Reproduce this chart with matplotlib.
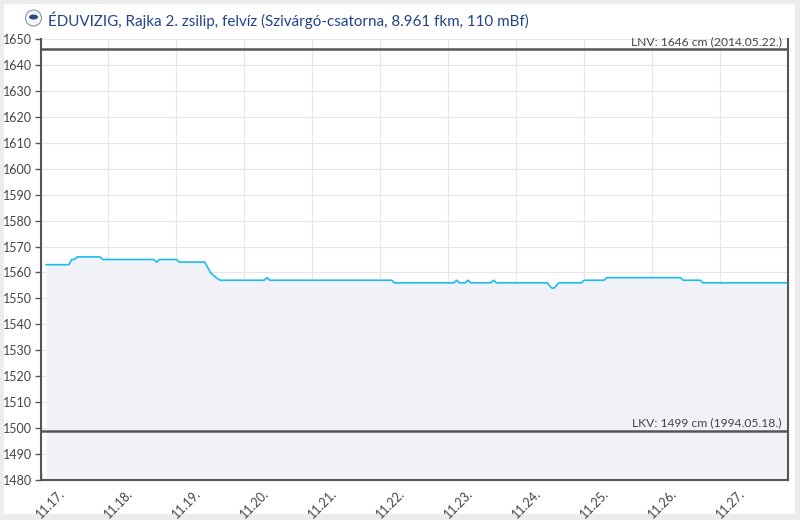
import matplotlib
matplotlib.use("Agg")
import matplotlib.pyplot as plt
import matplotlib.patches as mpatches
import matplotlib.transforms as mtransforms

plt.rcParams['font.family'] = ['Lato', 'DejaVu Sans']

# ---- data ----
title = "ÉDUVIZIG, Rajka 2. zsilip, felvíz (Szivárgó-csatorna, 8.961 fkm, 110 mBf)"
day_labels = ["11.17.", "11.18.", "11.19.", "11.20.", "11.21.", "11.22.",
              "11.23.", "11.24.", "11.25.", "11.26.", "11.27."]
# hours since 11.17. 00:00
hours = [2, 10, 11, 12, 13, 21, 22, 40, 41, 42, 48, 49, 58, 60, 61, 62, 63.5,
         79, 80, 81, 124, 125, 146, 147, 148, 150, 151, 152, 159, 160, 161,
         179, 180.5, 181.5, 183, 191, 192, 199, 200, 226, 227, 233, 234, 263.5]
levels = [1563, 1563, 1565, 1565, 1566, 1566, 1565, 1565, 1564, 1565, 1565, 1564,
          1564, 1560, 1559, 1558, 1557, 1557, 1558, 1557, 1557, 1556, 1556, 1557,
          1556, 1556, 1557, 1556, 1556, 1557, 1556, 1556, 1554, 1554, 1556, 1556,
          1557, 1557, 1558, 1558, 1557, 1557, 1556, 1556]
lnv_value = 1646
lnv_label = "LNV: 1646 cm (2014.05.22.)"
lkv_value = 1499
lkv_label = "LKV: 1499 cm (1994.05.18.)"
y_ticks = list(range(1480, 1651, 10))

W, H = 800, 520
fig = plt.figure(figsize=(W / 100, H / 100), dpi=100, facecolor="#ececec")

# white panel
fig.patches.append(mpatches.Rectangle((4 / W, 6 / H), 791 / W, 510 / H,
                                      transform=fig.transFigure,
                                      facecolor="white", edgecolor="none", zorder=-5))

ax = fig.add_axes([40.5 / W, 40 / H, (788 - 40.5) / W, (481 - 40) / H])
ax.set_facecolor("white")

ax.set_xlim(0, 24 * len(day_labels))
ax.set_ylim(1480, 1650)

ax.fill_between(hours, levels, 1480, color="#f1f2f7", zorder=1, linewidth=0)
ax.plot(hours, levels, color="#1cbcf0", linewidth=1.2, zorder=3)

ax.axhline(lnv_value, color="#555555", linewidth=1.8, zorder=4)
ax.axhline(lkv_value, color="#555555", linewidth=1.8, zorder=4)
ax.text(0.9915, lnv_value + 0.8, lnv_label, transform=ax.get_yaxis_transform(),
        ha="right", va="bottom", fontsize=8.7, color="#444444", zorder=5)
ax.text(0.9915, lkv_value + 0.8, lkv_label, transform=ax.get_yaxis_transform(),
        ha="right", va="bottom", fontsize=8.7, color="#444444", zorder=5)

# grid / ticks
ax.set_yticks(y_ticks)
x_ticks = [24 * i for i in range(len(day_labels))]
ax.set_xticks(x_ticks)
ax.set_xticklabels([])
ax.grid(True, color="#e6e6e6", linewidth=0.8, zorder=0)
ax.set_axisbelow(True)

for s in ["left", "bottom", "right"]:
    ax.spines[s].set_color("#555555")
    ax.spines[s].set_linewidth(1.5)
ax.spines["top"].set_visible(False)

ax.tick_params(axis="y", direction="out", length=4, width=1, color="#555555",
               labelsize=9, labelcolor="#444444", pad=2)
ax.tick_params(axis="x", direction="in", length=5, width=1, color="#555555")

offset = mtransforms.ScaledTranslation(10 / 100, -7 / 100, fig.dpi_scale_trans)
for xt, lab in zip(x_ticks, day_labels):
    ax.text(xt, 0, lab, transform=ax.get_xaxis_transform() + offset,
            rotation=45, ha="center", va="top", fontsize=9, color="#444444",
            clip_on=False)

# title + logo
fig.text(48 / W, 1 - 20 / H, title, ha="left", va="center", fontsize=10.9,
         color="#22428a")
fig.patches.append(mpatches.Circle((33.5, H - 18), 8, transform=None,
                                   facecolor="#f4f6fa", edgecolor="#8a94a8",
                                   linewidth=0.8, zorder=5))
fig.patches.append(mpatches.Ellipse((33.5, H - 17), 9, 5, transform=None,
                                    facecolor="#2b4a8a", edgecolor="none", zorder=6))

fig.savefig("out.png", dpi=100, facecolor=fig.get_facecolor())
